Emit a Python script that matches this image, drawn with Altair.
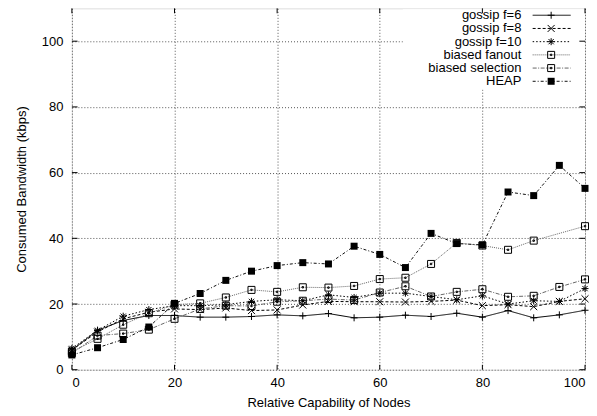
import altair as alt
import pandas as pd

x_vals = [0, 5, 10, 15, 20, 25, 30, 35, 40, 45, 50, 55, 60, 65, 70, 75, 80, 85, 90, 95, 100]

gossip_f6 = [6.0, 12.0, 15.0, 16.5, 16.5, 16.0, 16.0, 16.2, 16.7, 16.4, 17.1, 15.8, 16.0, 16.6, 16.2, 17.2, 16.0, 18.0, 15.8, 16.7, 18.1]
gossip_f8 = [6.0, 11.5, 15.5, 17.5, 18.5, 18.3, 18.8, 18.0, 18.2, 19.7, 20.8, 20.7, 20.7, 20.6, 20.8, 21.2, 19.5, 19.8, 19.2, 20.8, 21.6]
gossip_f10 = [6.5, 12.0, 16.3, 18.3, 19.5, 19.5, 19.8, 20.8, 21.3, 21.0, 22.8, 22.0, 23.3, 23.3, 22.3, 21.3, 22.5, 20.0, 21.0, 20.8, 24.7]
biased_fanout = [5.5, 9.4, 13.7, 17.2, 19.8, 20.2, 22.0, 24.3, 23.7, 25.1, 25.0, 25.5, 27.6, 28.0, 32.2, 38.6, 37.8, 36.5, 39.3, None, 43.7]
biased_selection = [5.0, 10.4, 11.0, 12.2, 15.5, 18.5, 19.5, 19.4, 20.7, 21.0, 21.5, 21.2, 23.5, 25.4, 22.3, 23.7, 24.5, 22.2, 22.5, 25.2, 27.5]
heap = [4.5, 6.7, 9.2, 13.0, 20.2, 23.2, 27.2, 30.0, 31.7, 32.6, 32.2, 37.6, 35.1, 31.1, 41.5, 38.4, 38.0, 54.1, 53.0, 62.2, 55.2]

series_names = ["gossip f=6", "gossip f=8", "gossip f=10", "biased fanout", "biased selection", "HEAP"]
series_values = [gossip_f6, gossip_f8, gossip_f10, biased_fanout, biased_selection, heap]

tick_values = [0, 20, 40, 60, 80, 100]

rows = []
for name, vals in zip(series_names, series_values):
    for xv, yv in zip(x_vals, vals):
        if yv is None:
            continue
        rows.append({"series": name, "x": xv, "y": yv})
df = pd.DataFrame(rows)

# styles
dashes = [[1, 0], [3, 2], [1.5, 2], [1, 1], [4, 1.5, 1, 1.5], [3, 2, 1, 2]]
line_colors = ["#000000", "#000000", "#000000", "#666666", "#666666", "#111111"]
shape_plus = "M-1,0L1,0M0,-1L0,1"
shape_x = "M-1,-1L1,1M-1,1L1,-1"
shape_star = "M-1,0L1,0M0,-1L0,1M-0.75,-0.75L0.75,0.75M-0.75,0.75L0.75,-0.75"
shape_box = "M-1,-1L1,-1L1,1L-1,1Z M-0.2,-0.2L0.2,-0.2L0.2,0.2L-0.2,0.2Z"
shape_fill = "M-1,-1L1,-1L1,1L-1,1Z"
shapes = [shape_plus, shape_x, shape_star, shape_box, shape_box, shape_fill]

W, H = 514, 362
YMAX = 110

xs = alt.Scale(domain=[0, 100], nice=False, zero=False)
ys = alt.Scale(domain=[0, YMAX], nice=False)

dash_scale = alt.Scale(domain=series_names, range=dashes)
color_scale = alt.Scale(domain=series_names, range=line_colors)
shape_scale = alt.Scale(domain=series_names, range=shapes)

FONT = "Liberation Sans"

base = alt.Chart(df)

lines = base.mark_line(strokeWidth=1).encode(
    x=alt.X("x:Q", scale=xs,
            axis=alt.Axis(values=tick_values, title="Relative Capability of Nodes",
                          grid=True, gridDash=[1, 2], gridColor="#555555", gridOpacity=1,
                          ticks=False, domain=False, labelPadding=7, labelFontSize=13,
                          labelFont=FONT, labelColor="#000", titleFont=FONT, titleFontSize=13,
                          titleFontWeight="normal", titleColor="#000",
                          titleY=33, titleBaseline="middle")),
    y=alt.Y("y:Q", scale=ys,
            axis=alt.Axis(values=tick_values, title="Consumed Bandwidth (kbps)",
                          grid=True, gridDash=[1, 2], gridColor="#555555", gridOpacity=1,
                          ticks=False, domain=False, labelPadding=9, labelFontSize=13,
                          labelFont=FONT, labelColor="#000", titleFont=FONT, titleFontSize=13,
                          titleFontWeight="normal", titleColor="#000",
                          titleX=-50, titleY=H / 2, titleAngle=-90, titleBaseline="middle",
                          titleAlign="center")),
    color=alt.Color("series:N", scale=color_scale, legend=None),
    strokeDash=alt.StrokeDash("series:N", scale=dash_scale, legend=None),
    detail="series:N",
)

pts_open = base.transform_filter(alt.datum.series != "HEAP").mark_point(
    filled=False, strokeWidth=1, size=49, color="#000", opacity=1
).encode(
    x=alt.X("x:Q", scale=xs),
    y=alt.Y("y:Q", scale=ys),
    shape=alt.Shape("series:N", scale=shape_scale, legend=None),
)

pts_heap = base.transform_filter(alt.datum.series == "HEAP").mark_point(
    filled=True, size=49, color="#000", opacity=1, shape=shape_fill
).encode(
    x=alt.X("x:Q", scale=xs),
    y=alt.Y("y:Q", scale=ys),
)

# legend (gnuplot style: label left, sample right)
leg_rows = []
for i, name in enumerate(series_names):
    ly = 107.9 - 4.02 * i
    leg_rows.append({"series": name, "ly": ly, "lx": 87.6, "l1": 89.8, "l2": 97.2, "lm": 93.4})
leg = pd.DataFrame(leg_rows)

leg_bg = alt.Chart(pd.DataFrame({"a": [64.5], "b": [99.7], "c": [85.3], "d": [109.7]})).mark_rect(
    color="white", opacity=1
).encode(x=alt.X("a:Q", scale=xs), x2="b:Q", y=alt.Y("c:Q", scale=ys), y2="d:Q")

leg_text = alt.Chart(leg).mark_text(align="right", baseline="middle", font=FONT, fontSize=13,
                                    color="#000").encode(
    x=alt.X("lx:Q", scale=xs), y=alt.Y("ly:Q", scale=ys), text="series:N")

leg_line = alt.Chart(leg).mark_rule(strokeWidth=1).encode(
    x=alt.X("l1:Q", scale=xs), x2="l2:Q", y=alt.Y("ly:Q", scale=ys),
    color=alt.Color("series:N", scale=color_scale, legend=None),
    strokeDash=alt.StrokeDash("series:N", scale=dash_scale, legend=None),
)

leg_pts_open = alt.Chart(leg).transform_filter(alt.datum.series != "HEAP").mark_point(
    filled=False, strokeWidth=1, size=49, color="#000", opacity=1
).encode(
    x=alt.X("lm:Q", scale=xs), y=alt.Y("ly:Q", scale=ys),
    shape=alt.Shape("series:N", scale=shape_scale, legend=None),
)
leg_pts_heap = alt.Chart(leg).transform_filter(alt.datum.series == "HEAP").mark_point(
    filled=True, size=49, color="#000", opacity=1, shape=shape_fill
).encode(x=alt.X("lm:Q", scale=xs), y=alt.Y("ly:Q", scale=ys))

# inward ticks on all four sides
tk = pd.DataFrame({"t": tick_values})
tick_bottom = alt.Chart(tk).mark_rule(color="#000", strokeWidth=1).encode(
    x=alt.X("t:Q", scale=xs), y=alt.datum(0, scale=ys), y2=alt.datum(1.5))
tick_top = alt.Chart(tk).mark_rule(color="#000", strokeWidth=1).encode(
    x=alt.X("t:Q", scale=xs), y=alt.datum(YMAX, scale=ys), y2=alt.datum(YMAX - 1.5))
tick_left = alt.Chart(tk).mark_rule(color="#000", strokeWidth=1).encode(
    y=alt.Y("t:Q", scale=ys), x=alt.datum(0, scale=xs), x2=alt.datum(1.1))
tick_right = alt.Chart(tk).mark_rule(color="#000", strokeWidth=1).encode(
    y=alt.Y("t:Q", scale=ys), x=alt.datum(100, scale=xs), x2=alt.datum(98.9))

chart = alt.layer(
    leg_bg, lines, pts_open, pts_heap,
    leg_text, leg_line, leg_pts_open, leg_pts_heap,
    tick_bottom, tick_top, tick_left, tick_right,
).properties(
    width=W, height=H,
    autosize=alt.AutoSizeParams(type="none"),
    padding={"left": 64, "top": 0, "right": 4, "bottom": 46},
).configure_view(
    stroke="#000", strokeWidth=1.2
).configure(background="white")

chart.save("out.html", embed_options={"renderer": "svg", "actions": False})
